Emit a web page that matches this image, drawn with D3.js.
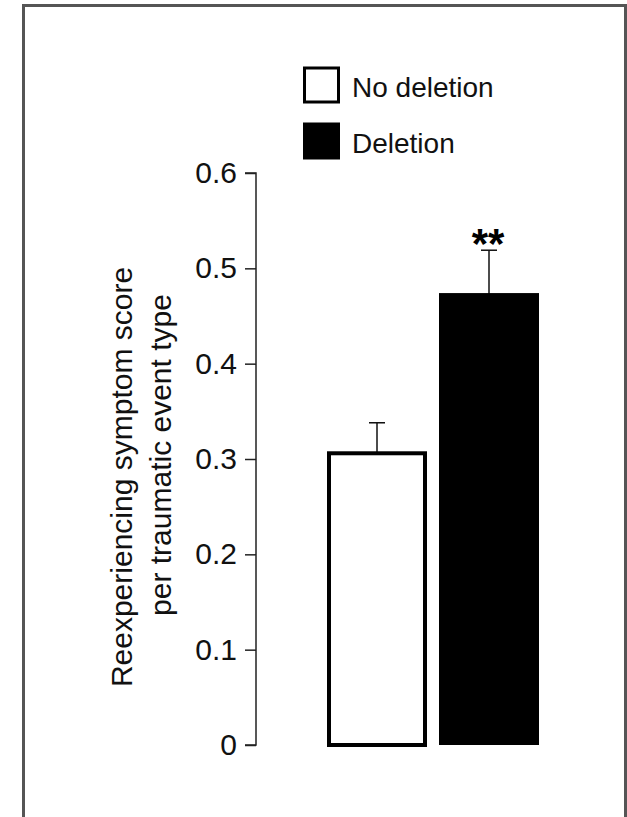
<!DOCTYPE html>
<html><head><meta charset="utf-8">
<script src="https://cdn.jsdelivr.net/npm/d3@7"></script>
<style>body{margin:0;background:#fff}svg{display:block}</style>
</head><body>
<script>
const categories = ["No deletion", "Deletion"];
const values = [0.306, 0.473];
const errors = [0.032, 0.046];
const fills = ["#ffffff", "#000000"];
const yTicks = [0, 0.1, 0.2, 0.3, 0.4, 0.5, 0.6];
const tickLabels = ["0", "0.1", "0.2", "0.3", "0.4", "0.5", "0.6"];
const titleLines = ["Reexperiencing symptom score", "per traumatic event type"];
const signif = ["", "**"];

const W = 627, H = 817;
const svg = d3.select("body").append("svg").attr("width", W).attr("height", H);
const font = "'Liberation Sans', Arial, sans-serif";

// frame
svg.append("path").attr("d", `M23.5,${H+5} V5.5 H625.5 V${H+5}`)
  .attr("fill", "none").attr("stroke", "#555").attr("stroke-width", 3);

const y = d3.scaleLinear().domain([0, 0.6]).range([745, 173]);
const x = d3.scaleBand().domain(categories).range([327, 539]).paddingInner(12 / 112).paddingOuter(0);

// axis
const axis = d3.axisLeft(y).tickValues(yTicks).tickSize(11).tickPadding(8)
  .tickFormat((d, i) => tickLabels[i]);
const ag = svg.append("g").attr("transform", "translate(256,0)").call(axis);
ag.select(".domain").attr("stroke", "#222").attr("stroke-width", 1.5).attr("d", `M-11,${y(0.6)}H0V${y(0)}H-11`);
ag.selectAll(".tick line").attr("stroke", "#222").attr("stroke-width", 1.5);
ag.selectAll(".tick text").attr("font-family", font).attr("font-size", 30).attr("fill", "#111");

// error bars
categories.forEach((c, i) => {
  const cx = x(c) + x.bandwidth() / 2;
  const g = svg.append("g").attr("stroke", "#111").attr("stroke-width", 1.5);
  g.append("line").attr("x1", cx).attr("x2", cx).attr("y1", y(values[i])).attr("y2", y(values[i] + errors[i]));
  g.append("line").attr("x1", cx - 8).attr("x2", cx + 8).attr("y1", y(values[i] + errors[i])).attr("y2", y(values[i] + errors[i]));
  if (signif[i]) {
    svg.append("text").attr("x", cx - 1).attr("y", y(values[i] + errors[i]) + 8)
      .attr("text-anchor", "middle").attr("font-family", font).attr("font-size", 42).attr("font-weight", "bold")
      .text(signif[i]);
  }
});

// bars
svg.selectAll("rect.bar").data(categories).enter().append("rect").attr("class", "bar")
  .attr("x", (d, i) => i === 0 ? x(d) + 2 : x(d))
  .attr("y", (d, i) => i === 0 ? y(values[i]) : y(values[i]) - 1)
  .attr("width", (d, i) => i === 0 ? x.bandwidth() - 4 : x.bandwidth())
  .attr("height", (d, i) => i === 0 ? y(0) - y(values[i]) : y(0) - y(values[i]) + 1)
  .attr("fill", (d, i) => fills[i])
  .attr("stroke", (d, i) => i === 0 ? "#000" : "none")
  .attr("stroke-width", 4);

// legend
const lg = svg.append("g");
categories.forEach((c, i) => {
  const ly = 68 + i * 56;
  lg.append("rect").attr("x", i === 0 ? 304.5 : 303).attr("y", i === 0 ? ly : ly - 1.5)
    .attr("width", i === 0 ? 34 : 37).attr("height", i === 0 ? 34 : 37)
    .attr("fill", fills[i]).attr("stroke", i === 0 ? "#000" : "none").attr("stroke-width", 3);
  lg.append("text").attr("x", 352).attr("y", ly + 29).attr("font-family", font).attr("font-size", 28)
    .attr("fill", "#111").text(c);
});

// y title
titleLines.forEach((t, i) => {
  svg.append("text").attr("transform", `translate(${132 + i * 39},${i === 0 ? 477 : 455}) rotate(-90)`)
    .attr("text-anchor", "middle").attr("font-family", font).attr("font-size", 30).attr("fill", "#111")
    .text(t);
});
</script>
</body></html>
